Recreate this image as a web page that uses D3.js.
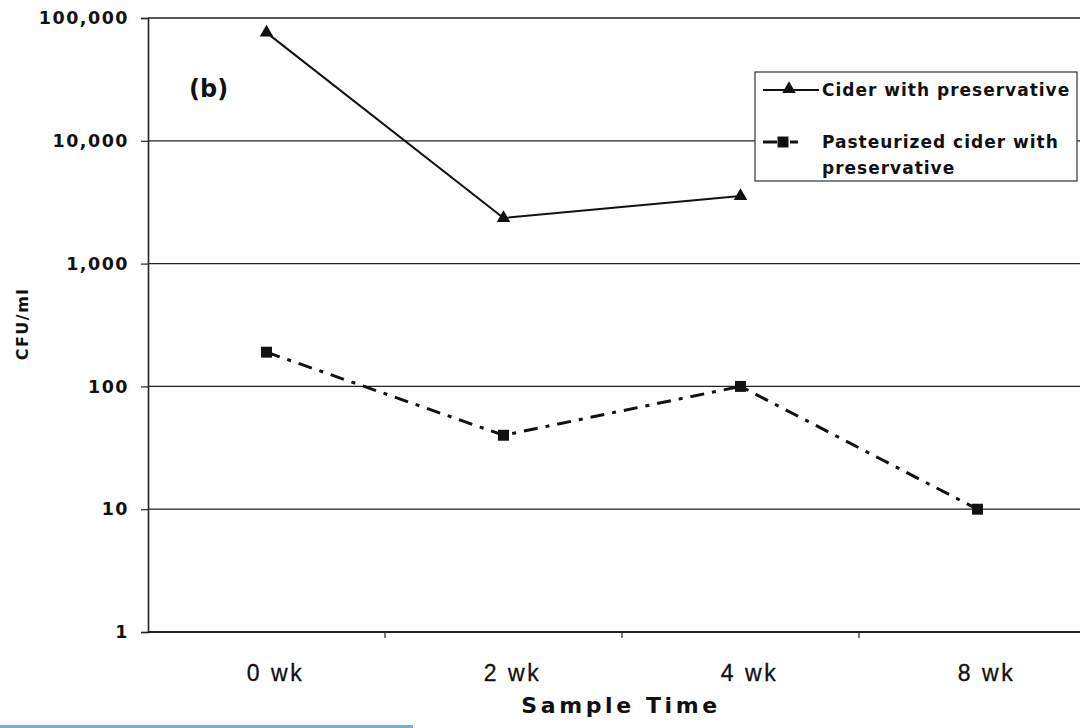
<!DOCTYPE html>
<html>
<head>
<meta charset="utf-8">
<script src="https://cdn.jsdelivr.net/npm/d3@7"></script>
<style>
  html, body { margin: 0; padding: 0; background: #fff; }
  svg { display: block; }
  text { font-family: "Liberation Sans", Arial, Helvetica, sans-serif; fill: #111; }
  .heavy { font-family: "DejaVu Sans", "Liberation Sans", Arial, sans-serif; font-weight: bold; }
</style>
</head>
<body>
<svg id="chart" width="1080" height="728"></svg>
<script>
// Sample times and plate counts (CFU/ml)
const categories = ["0 wk", "2 wk", "4 wk", "8 wk"];
const ciderPreservative = [76000, 2350, 3550, null];
const pasteurizedPreservative = [190, 40, 100, 10];
const yTickValues = [1, 10, 100, 1000, 10000, 100000];
const seriesNames = ["Cider with preservative", "Pasteurized cider with preservative"];

const svg = d3.select("#chart");
const plotLeft = 148, plotTop = 18, plotBottom = 632, bandW = 237, plotRight = 1080;

const x = d3.scaleBand().domain(categories).range([plotLeft, plotLeft + bandW * categories.length]).padding(0);
const y = d3.scaleLog().domain([1, 100000]).range([plotBottom, plotTop]);
const cx = c => x(c) + x.bandwidth() / 2;

// horizontal gridlines at each decade
svg.append("g").selectAll("line").data(yTickValues).join("line")
  .attr("x1", plotLeft).attr("x2", plotRight)
  .attr("y1", d => y(d)).attr("y2", d => y(d))
  .attr("stroke", "#222").attr("stroke-width", d => d === 1 ? 2 : 1.3);

// y axis
const yAxis = d3.axisLeft(y).tickValues(yTickValues).tickSize(7).tickPadding(12)
  .tickFormat(d3.format(","));
const gy = svg.append("g").attr("transform", `translate(${plotLeft},0)`).call(yAxis);
gy.attr("font-family", null).attr("font-size", null);
gy.select(".domain").attr("stroke", "#222").attr("stroke-width", 1.6);
gy.selectAll(".tick line").attr("stroke", "#222").attr("stroke-width", 1.2);
gy.selectAll(".tick text").attr("class", "heavy").attr("font-size", 17.5)
  .attr("letter-spacing", 1.5).attr("fill", "#111");

// x axis: ticks at band boundaries, labels at band centres
const boundaries = categories.slice(1).map(c => x(c));
svg.append("g").selectAll("line").data(boundaries).join("line")
  .attr("x1", d => d).attr("x2", d => d)
  .attr("y1", plotBottom).attr("y2", plotBottom + 6)
  .attr("stroke", "#222").attr("stroke-width", 1.2);
svg.append("g").selectAll("text").data(categories).join("text")
  .attr("x", d => cx(d) + 9).attr("y", 681)
  .attr("text-anchor", "middle").attr("font-size", 23).attr("letter-spacing", 2.5)
  .attr("stroke", "#111").attr("stroke-width", 0.3)
  .text(d => d);

// axis titles
svg.append("text").attr("class", "heavy").attr("x", 621).attr("y", 713).attr("text-anchor", "middle")
  .attr("font-size", 22).attr("letter-spacing", 3.6)
  .text("Sample Time");
svg.append("text").attr("class", "heavy").attr("transform", "translate(28,324) rotate(-90)")
  .attr("text-anchor", "middle").attr("font-size", 16).attr("letter-spacing", 1.5)
  .text("CFU/ml");

// panel label
svg.append("text").attr("class", "heavy").attr("x", 189).attr("y", 97).attr("font-size", 24)
  .text("(b)");

// series lines
const line = d3.line()
  .defined(d => d.v != null)
  .x(d => cx(d.c))
  .y(d => y(d.v));

const s1 = categories.map((c, i) => ({ c, v: ciderPreservative[i] }));
const s2 = categories.map((c, i) => ({ c, v: pasteurizedPreservative[i] }));

svg.append("path").datum(s1).attr("d", line)
  .attr("fill", "none").attr("stroke", "#111").attr("stroke-width", 2);
svg.append("path").datum(s2).attr("d", line)
  .attr("fill", "none").attr("stroke", "#111").attr("stroke-width", 3)
  .attr("stroke-dasharray", "14,8,4,8");

const tri = d3.symbol().type(d3.symbolTriangle).size(80);
const sq = d3.symbol().type(d3.symbolSquare).size(120);

svg.append("g").selectAll("path").data(s1.filter(d => d.v != null)).join("path")
  .attr("d", tri).attr("fill", "#111")
  .attr("transform", d => `translate(${cx(d.c)},${y(d.v)})`);
svg.append("g").selectAll("path").data(s2.filter(d => d.v != null)).join("path")
  .attr("d", sq).attr("fill", "#111")
  .attr("transform", d => `translate(${cx(d.c)},${y(d.v)})`);

// legend
const lg = svg.append("g");
lg.append("rect").attr("x", 755).attr("y", 72).attr("width", 322).attr("height", 109)
  .attr("fill", "#fff").attr("stroke", "#333").attr("stroke-width", 1.2);
lg.append("line").attr("x1", 763).attr("x2", 819).attr("y1", 90).attr("y2", 90)
  .attr("stroke", "#111").attr("stroke-width", 2);
lg.append("path").attr("d", tri).attr("fill", "#111").attr("transform", "translate(789,89)");
lg.append("text").attr("class", "heavy").attr("x", 822).attr("y", 96).attr("font-size", 17)
  .attr("letter-spacing", 1).text(seriesNames[0]);
lg.append("line").attr("x1", 763).attr("x2", 819).attr("y1", 142).attr("y2", 142)
  .attr("stroke", "#111").attr("stroke-width", 3).attr("stroke-dasharray", "14,13,8,30");
lg.append("path").attr("d", sq).attr("fill", "#111").attr("transform", "translate(783,142)");
lg.append("text").attr("class", "heavy").attr("x", 822).attr("y", 148).attr("font-size", 17)
  .attr("letter-spacing", 1).text("Pasteurized cider with");
lg.append("text").attr("class", "heavy").attr("x", 822).attr("y", 174).attr("font-size", 17)
  .attr("letter-spacing", 1).text("preservative");

// thin blue rule along the lower left edge
svg.append("rect").attr("x", 0).attr("y", 725).attr("width", 413).attr("height", 3)
  .attr("fill", "#6bb5d6");
</script>
</body>
</html>
